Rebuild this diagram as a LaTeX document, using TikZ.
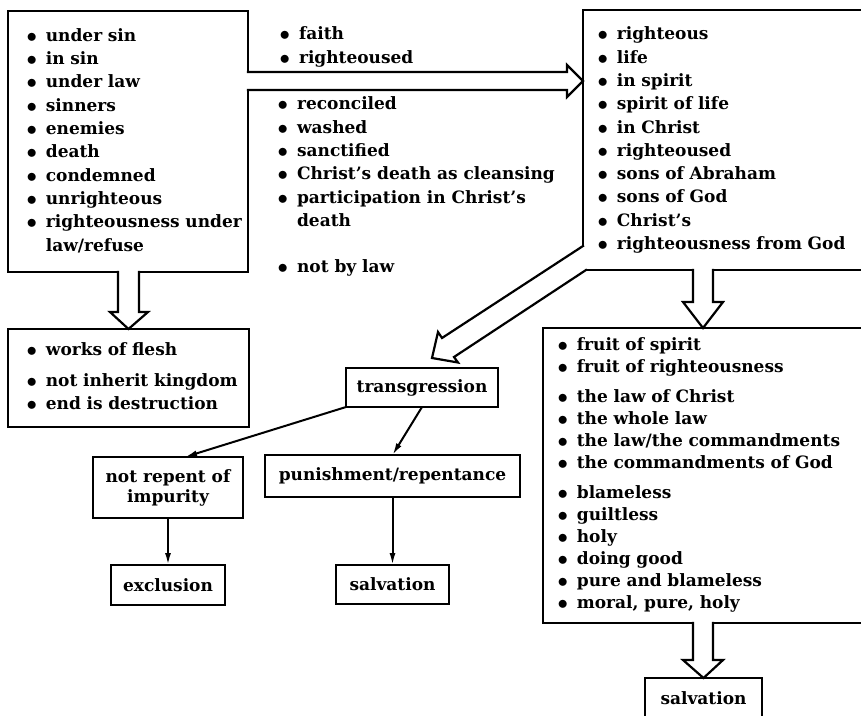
\documentclass[tikz,border=0pt]{standalone}
\usepackage{fontspec}
\setmainfont{DejaVu Serif}
\usepackage{tikz}
\usetikzlibrary{positioning,arrows.meta}

\newcommand{\dotitem}{\raisebox{-1pt}{\fontsize{22}{22}\selectfont$\bullet$}}

\begin{document}
\begin{tikzpicture}[x=1pt, y=-1pt,
listbox/.style={draw, line width=2.2pt, outer sep=0pt, anchor=north west, inner sep=0pt, align=left, font=\fontsize{17}{23.3}\selectfont\bfseries},
plainlist/.style={anchor=north west, inner sep=0pt, align=left, font=\fontsize{17}{23.3}\selectfont\bfseries},
wordbox/.style={draw, line width=2.2pt, outer sep=0pt, inner sep=0pt, align=center, font=\fontsize{17}{20}\selectfont\bfseries},
hollow/.style={line width=2.2pt, line join=miter, line cap=rect},
thinarrow/.style={line width=2pt, -{Latex[length=12pt,width=6pt]}}]

\useasboundingbox (0,0) rectangle (861,715);

\node[listbox, text width=240pt, minimum height=261pt] at (8,11) (sin) {\begin{tabular}{@{\hspace{18.5pt}}l@{\hspace{9pt}}l@{}}
\dotitem & under sin\\
\dotitem & in sin\\
\dotitem & under law\\
\dotitem & sinners\\
\dotitem & enemies\\
\dotitem & death\\
\dotitem & condemned\\
\dotitem & unrighteous\\
\dotitem & righteousness under\\
 & law/refuse
\end{tabular}};
\node[plainlist] at (279.5,23.35) (faith) {\begin{tabular}{@{}l@{\hspace{9pt}}l@{}}
\dotitem & faith\\
\dotitem & righteoused
\end{tabular}};
\node[plainlist] at (277.5,93.35) (cleansed) {\begin{tabular}{@{}l@{\hspace{9pt}}l@{}}
\dotitem & reconciled\\
\dotitem & washed\\
\dotitem & sanctified\\
\dotitem & Christ's death as cleansing\\
\dotitem & participation in Christ's\\
 & death\\
 & \\
\dotitem & not by law
\end{tabular}};
\node[listbox, text width=300pt, minimum height=260pt] at (583,10) (life) {\begin{tabular}{@{\hspace{14.5pt}}l@{\hspace{9pt}}l@{}}
\dotitem & righteous\\
\dotitem & life\\
\dotitem & in spirit\\
\dotitem & spirit of life\\
\dotitem & in Christ\\
\dotitem & righteoused\\
\dotitem & sons of Abraham\\
\dotitem & sons of God\\
\dotitem & Christ's\\
\dotitem & righteousness from God
\end{tabular}};
\node[listbox, text width=241pt, minimum height=98pt] at (8,329) (flesh) {\begin{tabular}{@{\hspace{18.5pt}}l@{\hspace{9pt}}l@{}}
\dotitem & works of flesh\\[8pt]
\dotitem & not inherit kingdom\\
\dotitem & end is destruction
\end{tabular}};
\node[listbox, text width=340pt, minimum height=295pt, font=\fontsize{17}{22}\selectfont\bfseries] at (543,328) (fruit) {\begin{tabular}{@{\hspace{14.5pt}}l@{\hspace{9pt}}l@{}}
\dotitem & fruit of spirit\\
\dotitem & fruit of righteousness\\[8pt]
\dotitem & the law of Christ\\
\dotitem & the whole law\\
\dotitem & the law/the commandments\\
\dotitem & the commandments of God\\[8pt]
\dotitem & blameless\\
\dotitem & guiltless\\
\dotitem & holy\\
\dotitem & doing good\\
\dotitem & pure and blameless\\
\dotitem & moral, pure, holy
\end{tabular}};

\node[wordbox, minimum width=152pt, minimum height=39pt] at (422,387.5) (trans) {transgression};
\node[wordbox, minimum width=150pt, minimum height=61pt] at (168,487.5) (impure) {not repent of\\impurity};
\node[wordbox, minimum width=255pt, minimum height=42pt] at (392.5,476) (punish) {punishment/repentance};
\node[wordbox, minimum width=114pt, minimum height=40pt] at (168,585) (excl) {exclusion};
\node[wordbox, minimum width=113pt, minimum height=39pt] at (392.5,584.5) (salv1) {salvation};
\node[wordbox, minimum width=117pt, minimum height=40pt] at (703.5,698) (salv2) {salvation};

\fill[white] (243,72) -- (567,72) -- (567,65) -- (583,81) -- (567,97) -- (567,90) -- (243,90) -- cycle;
\draw[hollow] (sin.east |- 0,72) -- (567,72) -- (567,65) -- (life.west |- 0,81) -- (567,97) -- (567,90) -- (sin.east |- 0,90);

\fill[white] (118,266) -- (118,312) -- (110,312) -- (128.5,329) -- (148,312) -- (139,312) -- (139,266) -- cycle;
\draw[hollow] (118,272) -- (118,312) -- (110,312) -- (flesh.north) -- (148,312) -- (139,312) -- (139,272);

\fill[white] (693,265) -- (693,302) -- (683,302) -- (703,328) -- (723,302) -- (713,302) -- (713,265) -- cycle;
\draw[hollow] (693,270) -- (693,302) -- (683,302) -- (703,328) -- (723,302) -- (713,302) -- (713,270);

\fill[white] (581,246) rectangle (586,274);
\draw[hollow] (583,246) -- (442,338) -- (438,332) -- (432,358) -- (458,362.5) -- (454,357) -- (586,270);

\fill[white] (693,618) -- (693,660) -- (683,660) -- (703.5,678) -- (723,660) -- (713,660) -- (713,618) -- cycle;
\draw[hollow] (693,623) -- (693,660) -- (683,660) -- (salv2.north) -- (723,660) -- (713,660) -- (713,623);

\draw[thinarrow] (trans.south west) -- ([xshift=17pt]impure.north);
\draw[thinarrow] (trans.south) -- (punish.north);
\draw[thinarrow] (impure.south) -- (excl.north);
\draw[thinarrow] (punish.south) -- (salv1.north);

\end{tikzpicture}
\end{document}
